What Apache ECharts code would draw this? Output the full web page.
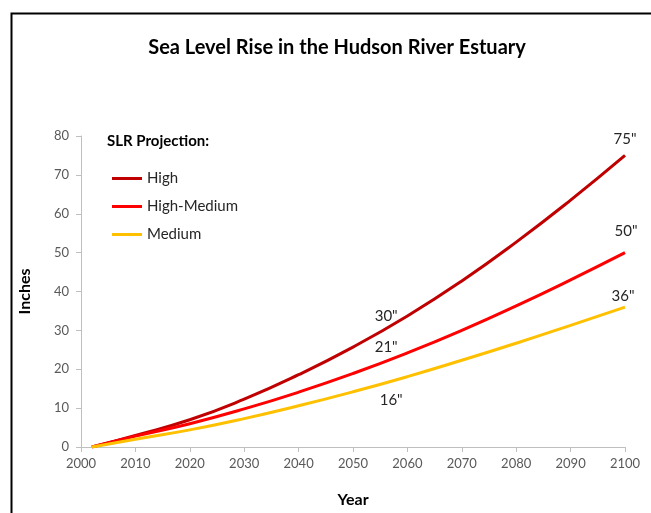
<!DOCTYPE html>
<html>
<head>
<meta charset="utf-8">
<script src="https://cdn.jsdelivr.net/npm/echarts@6/dist/echarts.min.js"></script>
<style>
html,body{margin:0;padding:0;background:#fff;}
#chart{width:651px;height:513px;}
</style>
</head>
<body>
<div id="chart"></div>
<script>
var years = [2002, 2010, 2020, 2030, 2040, 2050, 2060, 2070, 2080, 2090, 2100];
var highValues = [0, 3.0, 7.0, 12.3, 18.6, 25.7, 33.7, 42.7, 52.7, 63.5, 75.0];
var highMedValues = [0, 2.8, 6.0, 9.8, 14.1, 18.9, 24.2, 30.0, 36.3, 43.0, 50.0];
var mediumValues = [0, 2.0, 4.4, 7.3, 10.6, 14.2, 18.1, 22.3, 26.7, 31.3, 36.0];
var seriesNames = ['High', 'High-Medium', 'Medium'];
var seriesColors = ['#c00000', '#ff0000', '#ffc000'];
var xTicks = [2000, 2010, 2020, 2030, 2040, 2050, 2060, 2070, 2080, 2090, 2100];
var yTicks = [0, 10, 20, 30, 40, 50, 60, 70, 80];
// annotations: [seriesIndex, year, value, text]
var annotations = [
  [0, 2055, 29.5, '30"'], [1, 2055, 21.5, '21"'], [2, 2055, 16.0, '16"'],
  [0, 2100, 75.0, '75"'], [1, 2100, 50.0, '50"'], [2, 2100, 36.0, '36"']
];
var labelOffsets = [[6, -16], [6, -16], [11, 15], [0, -16], [1, -21], [-2, -11]];

var FONT = 'Lato';
var allValues = [highValues, highMedValues, mediumValues];

function pairs(vals){ return years.map(function(y,i){ return [y, vals[i]]; }); }

var series = seriesNames.map(function(name, si){
  var mp = [];
  annotations.forEach(function(a, ai){
    if (a[0] === si) {
      mp.push({
        coord: [a[1], a[2]],
        symbol: 'circle', symbolSize: 0,
        label: {show: true, formatter: a[3], position: 'inside', offset: labelOffsets[ai],
          color: '#262626', fontSize: 15, fontFamily: FONT}
      });
    }
  });
  return {
    name: name, type: 'line', smooth: 0.5, showSymbol: false, symbol: 'none',
    data: pairs(allValues[si]),
    lineStyle: {color: seriesColors[si], width: 3},
    itemStyle: {color: seriesColors[si]},
    markPoint: {data: mp, silent: true, animation: false},
    animation: false
  };
});

var chart = echarts.init(document.getElementById('chart'));
chart.setOption({
  backgroundColor: '#fff',
  animation: false,
  title: {
    text: 'Sea Level Rise in the Hudson River Estuary',
    left: 332, top: 33, textAlign: 'center',
    textStyle: {fontFamily: FONT, fontWeight: 'bold', fontSize: 20, color: '#000'}
  },
  graphic: [
    {type: 'rect', left: 9, top: 11, shape: {width: 700, height: 600},
     style: {fill: 'none', stroke: '#000', lineWidth: 2}, z: 100},
    {type: 'text', left: 107, top: 134,
     style: {text: 'SLR Projection:', fontFamily: FONT, fontWeight: 'bold', fontSize: 15, fill: '#000'}}
  ],
  legend: {
    data: seriesNames.map(function(n){ return {name: n, icon: 'rect'}; }),
    orient: 'vertical', left: 107, top: 166,
    itemWidth: 30, itemHeight: 3, itemGap: 13,
    textStyle: {fontFamily: FONT, fontSize: 15, color: '#262626'},
    selectedMode: false
  },
  grid: {left: 81, right: 26, top: 136, bottom: 66, containLabel: false},
  xAxis: {
    type: 'value', min: xTicks[0], max: xTicks[xTicks.length-1], interval: 10,
    name: 'Year', nameLocation: 'middle', nameGap: 45,
    nameTextStyle: {fontFamily: FONT, fontWeight: 'bold', fontSize: 16, color: '#000'},
    axisLine: {show: true, lineStyle: {color: '#bfbfbf', width: 1}},
    axisTick: {show: true, length: 5, lineStyle: {color: '#bfbfbf'}},
    axisLabel: {fontFamily: FONT, fontSize: 13, color: '#595959', margin: 10,
      formatter: function(v){ return String(v); }},
    splitLine: {show: false}
  },
  yAxis: {
    type: 'value', min: yTicks[0], max: yTicks[yTicks.length-1], interval: 10,
    name: 'Inches', nameLocation: 'middle', nameGap: 48, nameRotate: 90,
    nameTextStyle: {fontFamily: FONT, fontWeight: 'bold', fontSize: 16, color: '#000'},
    axisLine: {show: true, lineStyle: {color: '#bfbfbf', width: 1}},
    axisTick: {show: true, length: 5, lineStyle: {color: '#bfbfbf'}},
    axisLabel: {fontFamily: FONT, fontSize: 13, color: '#595959', margin: 12},
    splitLine: {show: false}
  },
  series: series
});
</script>
</body>
</html>
